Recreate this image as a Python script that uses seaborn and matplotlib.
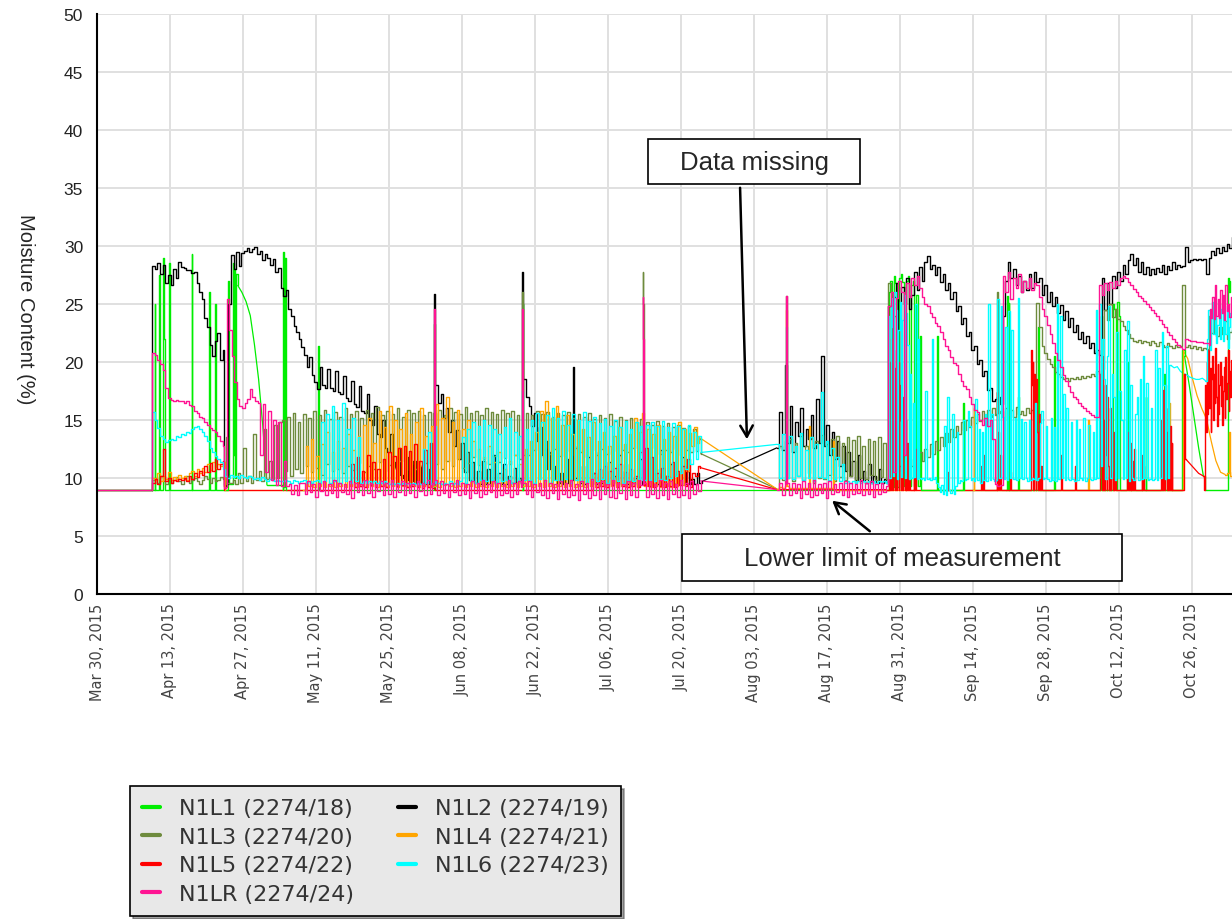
import pandas as pd
import seaborn as sns
import matplotlib.pyplot as plt
import matplotlib.ticker as mticker
from matplotlib.lines import Line2D
from matplotlib.patches import Rectangle

# day 0 = Mar 30, 2015
start_date = pd.Timestamp("2015-03-30")

sensors = ["N1L1 (2274/18)", "N1L2 (2274/19)", "N1L3 (2274/20)", "N1L4 (2274/21)",
           "N1L5 (2274/22)", "N1L6 (2274/23)", "N1LR (2274/24)"]
colors = ["#00ee00", "#000000", "#6e8b3d", "#ffa500", "#ff0000", "#00ffff", "#ff1493"]

# each run: (first day, step in days, readings)
# runs with a long step, and jumps of several days between runs, are joined by straight lines
n1l1 = [
    (0, 10.5, [9, 9]),
    (10.9, 0.15, [9.0, 25.0, 9.0]),
    (11.8, 0.15, [9.0, 27.5, 9.0]),
    (12.6, 0.15, [9.0, 29.0, 22.0, 9.0]),
    (13.7, 0.15, [9.0, 28.5, 9.0]),
    (18.0, 0.15, [9.0, 29.3, 9.0]),
    (21.3, 0.15, [9.0, 26.0, 24.5, 9.0]),
    (22.5, 0.15, [9.0, 25.0, 9.0]),
    (25.0, 0.15, [9.0, 27.0, 9.5]),
    (25.9, 0.15, [9.5, 28.5, 12.0, 28.0, 10.0, 27.6]),
    (27.0, 0.8, [26.6, 26.0, 25.2, 24.0, 21.5, 18.5, 14.5, 9.4]),
    (35.6, 0.15, [9.0, 29.5, 9.2, 29.0, 9.0]),
    (42.3, 0.15, [9.0, 21.4, 9.0]),
    (64.6, 0.1, [9.0, 23.3, 9.0]),
    (81.6, 0.1, [9.0, 25.0, 9.0]),
    (116.0, 14.4, [9.0, 9.0]),
    (151.5, 0.33, [9.0, 26.0, 27.0, 9.2, 27.4, 26.8, 9.2, 27.2, 27.6, 26.9, 9.3, 27.0, 27.4,
                   9.3, 26.6, 27.0, 9.3, 25.8, 9.3, 22.2, 9.0]),
    (161.0, 0.15, [9.0, 22.2, 9.0]),
    (166.0, 0.15, [9.0, 16.5, 9.0]),
    (174.4, 0.15, [9.0, 25.7, 9.0, 25.1, 9.0]),
    (176.5, 0.15, [9.0, 17.0, 9.0]),
    (180.3, 0.15, [9.0, 23.0, 9.0]),
    (183.5, 0.15, [9.0, 20.5, 9.0]),
    (192.4, 0.15, [9.0, 24.0, 9.0]),
    (194.5, 0.3, [9.0, 25.0, 24.6, 9.0, 25.2, 24.0, 9.0]),
    (197.5, 0.15, [9.0, 20.0, 9.0]),
    (201.0, 0.15, [9.0, 17.0, 9.0]),
    (204.5, 0.15, [9.0, 19.0, 9.0]),
    (208.0, 0.15, [9.0, 21.0]),
    (208.6, 0.9, [20.5, 18.0, 15.3, 12.6, 10.2]),
    (212.5, 0.15, [9.0, 9.0]),
    (216.8, 0.15, [9.0, 27.2, 26.0, 27.0]),
]

n1l2 = [
    (0, 10.5, [9, 9]),
    (10.6, 0.5, [28.3, 28.0, 28.5, 27.6, 28.4, 26.8, 27.5, 26.6, 28.0, 27.2, 28.6, 28.2, 28.1, 27.9,
                 27.9, 27.7, 27.8, 26.8, 26.0, 25.4, 23.8, 23.0, 21.5, 20.5, 21.8, 22.5, 20.2, 21.0]),
    (24.4, 0.4, [9.3, 9.5]),
    (25.2, 0.5, [25.0, 29.2, 28.0, 29.5, 28.3, 29.4, 29.6, 29.8, 29.5, 29.7, 29.9, 29.3, 29.6, 28.8,
                 29.3, 29.0, 28.4, 28.9, 27.8, 28.1, 26.4, 25.7, 26.2, 24.6, 24.0, 23.1, 22.6, 22.0,
                 21.3, 20.6, 19.6, 20.4, 18.9, 18.3, 17.7, 19.6, 18.0, 17.8, 19.4, 17.8, 17.5, 19.2,
                 17.4, 17.2, 18.8, 16.9, 16.6, 18.4, 16.4, 16.1, 17.9, 15.8, 15.6, 17.2, 15.0, 14.6,
                 16.2, 13.8, 13.5, 15.0, 12.6, 12.2, 13.8, 11.4, 10.9, 12.6, 10.3, 10.0, 11.8, 9.8,
                 9.7, 11.5, 9.6, 9.5, 11.0, 9.6, 9.5, 10.8, 9.6]),
    (64.6, 0.1, [9.6, 25.9, 24.0, 18.0]),
    (65.4, 0.5, [16.5, 17.2, 15.2, 16.0, 14.0, 15.0, 12.8, 14.1, 11.6, 13.0, 10.5, 12.2, 9.8, 11.4,
                 9.6, 10.6, 9.5, 11.5, 9.5, 10.8, 9.5, 12.0, 9.6, 10.4, 9.5, 11.2, 9.5, 10.2, 9.6,
                 10.9, 9.5, 10.0, 9.6]),
    (81.6, 0.1, [27.8, 24.0, 18.5]),
    (82.3, 0.5, [17.0, 16.2, 14.5, 15.6, 13.2, 14.4, 12.0, 13.2, 10.8, 12.2, 9.9, 11.0, 9.6, 10.4,
                 9.5, 11.6, 9.6, 9.8]),
    (91.2, 0.1, [9.8, 19.6, 10.0]),
    (92.0, 0.5, [12.8, 9.6, 11.0, 9.5, 11.8, 9.6, 10.4, 9.5, 12.2, 9.6, 10.8, 9.5, 11.4, 9.5, 10.2,
                 9.6, 12.0, 9.5, 10.6, 9.5, 11.2, 9.6, 10.0, 9.5, 11.6, 9.5, 10.4, 9.6, 11.0, 9.5,
                 10.8, 9.5, 12.4, 9.6, 10.2, 9.5, 11.2, 9.5, 10.0, 9.6, 11.8, 9.5, 10.6, 9.5, 9.9,
                 9.5, 10.4, 9.6, 9.7]),
    (130.4, 0.5, [12.6, 15.7, 12.4, 19.7, 13.0, 16.2, 12.2, 14.8, 13.6, 16.0, 12.8, 14.2, 13.4, 15.4,
                  12.6, 16.8, 13.0, 20.5, 12.8, 14.6, 12.0, 14.0, 11.6, 13.2, 11.0, 12.8, 10.6, 12.2,
                  10.2, 11.5, 9.8, 12.0, 9.7, 10.6, 9.6, 11.2, 9.6, 10.2, 9.6, 10.8, 9.6, 9.9, 9.6]),
    (151.7, 0.5, [24.8, 12.0, 25.6, 26.8, 15.0, 26.5, 25.0, 27.2, 24.6, 25.8, 27.8, 26.2, 28.2, 27.0,
                  28.6, 29.1, 28.0, 28.4, 27.5, 28.2, 26.9, 27.6, 26.2, 26.8, 25.4, 26.0, 24.4, 24.8,
                  23.3, 23.8, 22.2, 22.6, 21.0, 21.4, 19.8, 20.2, 18.8, 19.2, 17.6, 17.8, 16.6, 16.8,
                  17.0, 16.4, 24.0, 27.0, 28.6, 27.2, 28.0, 26.6, 27.4, 26.0, 27.0, 26.2, 27.6, 26.4,
                  27.8, 26.9, 27.2, 25.8, 26.6, 25.2, 26.0, 24.8, 25.6, 24.2, 24.9, 23.6, 24.4, 23.0,
                  23.8, 22.6, 23.2, 22.0, 22.6, 21.6, 22.2, 21.2, 21.6, 20.8, 21.0, 20.6, 27.2, 24.5,
                  26.8, 25.0, 27.4, 26.4, 27.8, 27.0, 28.4, 27.6, 28.8, 29.3, 28.4, 29.0, 27.8, 28.6,
                  27.6, 28.2, 27.5, 28.0, 27.6, 28.1, 27.8, 28.4, 27.6, 28.3, 27.9, 28.6, 28.0, 28.4,
                  28.2, 28.3, 29.9, 28.6, 28.8, 28.9, 28.8, 28.9, 28.8, 28.9, 27.6, 29.0, 29.6, 29.2,
                  29.8, 29.4, 29.9, 29.6, 30.2, 29.8, 30.8, 31.5]),
]

n1l3 = [
    (0, 10.5, [9, 9]),
    (10.6, 0.5, [9.8, 10.0, 9.6, 10.2, 9.7, 9.5, 10.0, 9.6, 9.8, 10.1, 9.7, 9.5, 9.9, 10.2, 9.6, 9.8,
                 10.0, 9.7, 9.5, 9.8, 10.2, 9.9, 9.6, 10.0, 9.7, 9.8, 10.1, 9.9]),
    (24.4, 0.3, [9.5, 13.5, 9.6]),
    (25.5, 0.5, [9.6, 9.8, 9.5, 10.4, 9.6, 12.6, 9.7, 10.2, 9.6, 13.8, 9.8, 10.6, 9.7, 14.2, 9.9,
                 11.5, 9.8, 14.6, 10.0, 14.8]),
    (35.5, 0.5, [15.0, 10.6, 15.3, 10.2, 15.6, 10.8, 14.8, 10.4, 15.5, 11.0, 15.2, 10.5, 15.8, 10.9,
                 15.4, 10.3, 15.9, 11.2, 15.1, 10.6, 15.7, 10.8, 15.3, 10.4, 16.0, 11.0, 15.5, 10.7,
                 15.8, 11.3, 15.2, 10.5, 15.9, 11.0, 15.6, 10.8, 16.1, 11.4, 15.4, 10.6, 15.8, 11.1,
                 15.5, 10.9, 16.0, 11.5, 15.3, 10.7, 15.9, 11.2, 15.6, 10.8, 15.8, 11.0, 15.4, 11.3,
                 15.7, 10.9]),
    (64.5, 0.5, [15.6, 11.2, 15.9, 10.8, 15.4, 11.5, 16.0, 11.0, 15.7, 11.6, 15.5, 10.9, 16.1, 11.3,
                 15.6, 11.8, 15.8, 11.1, 15.4, 11.6, 16.0, 11.2, 15.7, 11.9, 15.5, 11.4, 15.9, 11.7,
                 15.6, 11.2, 15.8, 12.0, 15.4, 11.6, 15.7]),
    (81.6, 0.1, [26.0, 24.5, 12.0]),
    (82.2, 0.5, [15.6, 12.0, 15.4, 12.4, 15.8, 11.8, 15.5, 12.6, 15.7, 12.1, 15.3, 12.5, 15.6, 11.9,
                 15.4, 12.3, 15.7, 12.0, 15.2, 12.6, 15.5, 12.2, 15.3, 11.8, 15.6, 12.4, 15.1, 12.0,
                 15.4, 12.5, 15.2, 12.1, 15.5, 12.3, 14.9, 11.9, 15.3, 12.4, 15.0, 12.2, 15.2, 12.6,
                 14.8, 12.0, 15.1]),
    (104.6, 0.1, [12.3, 27.8, 25.0, 12.5]),
    (105.3, 0.5, [14.8, 12.3, 14.6, 12.6, 14.9, 12.1, 14.5, 12.4, 14.7, 12.2, 14.4, 12.5, 14.6, 12.0,
                  14.3, 12.4, 14.5, 12.2, 14.2, 12.3, 13.4, 12.1]),
    (130.4, 0.5, [9.05, 12.8, 9.8, 13.2]),
    (132.1, 0.1, [9.8, 25.7, 24.0, 10.0]),
    (132.8, 0.5, [13.4, 9.7, 13.0, 10.2, 13.6, 9.8, 12.8, 10.4, 13.5, 9.6, 13.2, 10.0, 13.7, 9.9,
                  12.9, 10.3, 13.4, 9.7, 13.6, 10.1, 13.0, 9.8, 13.5, 10.2, 13.3, 9.6, 13.6, 10.0,
                  12.8, 9.9, 13.4, 10.3, 13.2, 9.8, 13.5, 10.1, 13.0, 9.9]),
    (151.7, 0.5, [26.8, 10.6, 24.0, 10.8, 11.0, 10.6, 11.4, 10.9, 11.6, 11.0, 11.9, 11.3, 12.2, 11.5,
                  12.5, 11.8, 12.9, 12.1, 13.2, 12.4, 13.5, 12.8, 13.9, 13.1, 14.2, 13.5, 14.5, 13.8,
                  14.8, 14.1, 15.0, 14.4, 15.3, 14.7, 15.5, 14.9, 15.8, 15.1, 15.9, 15.3, 16.0, 15.4]),
    (172.5, 0.15, [15.5, 26.0, 15.6]),
    (173.2, 0.5, [15.8, 15.2, 16.0, 15.4, 15.9, 15.3, 16.1, 15.5, 15.8, 15.4, 16.0, 15.6, 15.9, 15.5]),
    (180.2, 0.5, [25.1, 23.0, 21.4, 20.8, 20.3, 19.8, 19.6, 19.1, 19.0, 18.7, 18.5, 18.6, 18.4,
                  18.6, 18.5, 18.7, 18.5, 18.8, 18.6, 18.8, 18.7, 19.0, 18.8, 19.2, 19.0, 19.4,
                  24.5, 23.6, 25.0, 23.9, 24.6, 23.7, 23.5, 23.1, 22.8, 22.4, 22.1, 21.8, 21.7, 21.9,
                  21.6, 21.8, 21.7,
                  21.5, 21.8, 21.6, 21.4, 21.7, 21.5, 21.3, 21.6, 21.4, 21.2, 21.5, 21.3, 21.4,
                  26.6,
                  21.3, 21.5, 21.2, 21.4, 21.1, 21.3, 21.0, 21.2, 21.1,
                  24.0, 22.5, 23.8, 22.2, 23.0, 22.4, 23.5, 22.0, 22.6, 22.8]),
]

n1l4 = [
    (0, 10.5, [9, 9]),
    (10.6, 0.5, [10.0, 9.8, 10.4, 9.7, 10.2, 9.9, 10.5, 9.8, 10.1, 9.9, 10.3, 10.0, 10.2, 9.8, 10.4,
                 10.6, 10.2, 10.8, 10.4, 10.9, 10.5, 11.2, 10.7, 11.4, 10.9, 11.2, 11.0, 11.4]),
    (24.5, 15.0, [9.0, 9.0]),
    (40.0, 0.5, [12.8, 9.3, 13.4, 9.2, 11.9, 9.3, 12.9, 9.2, 14.0, 9.3, 12.2, 9.2, 13.2, 9.3, 12.6,
                 9.2, 13.8, 9.3, 12.4, 9.2, 13.6, 9.3, 14.6, 9.2, 15.2, 9.3, 13.0, 9.2, 15.8, 9.3,
                 14.4, 9.2, 16.2, 9.3, 15.0, 9.2, 14.2, 9.3, 15.6, 9.2, 13.8, 9.3, 14.8, 9.2, 16.0,
                 9.3, 13.6, 9.2]),
    (64.0, 0.5, [14.5, 9.3, 16.4, 9.2, 15.2, 9.4, 17.0, 9.3, 14.8, 9.2, 15.9, 9.3, 14.2, 9.2, 15.0,
                 9.3, 13.2, 9.2, 12.5, 9.3, 11.8, 9.2, 12.8, 9.3, 11.4, 9.2, 12.2, 9.3, 10.8, 9.2,
                 11.5, 9.3, 12.0, 9.2, 11.2, 9.3]),
    (82.0, 0.5, [12.5, 9.3, 13.2, 9.2, 14.0, 9.3, 15.8, 9.2, 16.6, 9.3, 15.2, 9.2, 16.2, 9.3, 14.6,
                 9.2, 15.4, 9.3, 13.8, 9.2, 15.0, 9.3, 14.2, 9.2, 13.5, 9.3, 14.8, 9.2, 13.2, 9.3,
                 14.0, 9.2, 12.8, 9.3, 13.6, 9.2, 14.4, 9.3, 12.9, 9.2, 13.8, 9.3, 15.2, 9.2, 14.0]),
    (104.5, 0.5, [15.6, 9.3, 14.2, 9.2, 13.8, 9.3, 14.6, 9.2, 13.4, 9.3, 14.0, 9.2, 13.6, 9.3, 14.8,
                  9.4, 14.2, 10.6, 13.9, 12.8, 14.4, 13.0, 13.5]),
    (130.4, 0.5, [9.05, 9.2, 9.1, 9.3]),
    (132.1, 0.1, [9.3, 24.5, 22.0, 9.3]),
    (132.8, 0.15, [9.1, 9.1]),
    (136.5, 0.15, [9.1, 14.5, 9.1]),
    (141.0, 0.15, [9.1, 13.2, 9.0]),
    (152.0, 0.15, [9.0, 9.0]),
    (168.0, 0.15, [9.0, 16.0, 9.0]),
    (190.0, 0.15, [9.0, 15.0, 9.0]),
    (205.5, 0.15, [9.0, 16.5, 9.0]),
    (208.3, 0.9, [21.0, 20.3, 18.6, 17.1, 16.0, 15.1, 13.2, 11.5, 10.5, 10.3]),
    (216.8, 0.3, [10.4, 14.0, 10.2, 10.5]),
]

n1l5 = [
    (0, 10.5, [9, 9]),
    (10.6, 0.5, [9.6, 9.9, 9.5, 10.2, 12.5, 9.7, 10.0, 9.6, 9.8, 9.7, 9.9, 9.8, 10.0, 9.7, 10.2, 9.9,
                 10.4, 10.1, 10.6, 10.3, 11.0, 10.5, 11.3, 10.6, 11.6, 10.8, 11.2, 11.5]),
    (24.4, 24.0, [9.0, 9.0]),
    (48.8, 0.5, [11.2, 9.2, 11.8, 9.3, 10.6, 9.2, 12.0, 9.4, 11.4, 9.2, 10.8, 9.3, 11.6, 9.2, 12.2,
                 9.5, 11.9, 9.3, 12.6, 9.4, 12.8, 9.2, 12.3, 9.3, 12.9, 9.2, 11.5, 9.1]),
    (62.8, 0.5, [12.4, 9.2, 13.0, 9.1]),
    (64.8, 30.0, [9.0, 9.0]),
    (95.2, 0.5, [10.4, 9.2, 10.8, 9.3, 11.0, 9.2, 10.6, 9.4, 10.9, 9.2, 11.2, 9.3, 10.5, 9.2, 10.8,
                 9.3, 10.2, 9.2, 12.2, 9.4, 12.6, 9.3, 11.8, 9.2, 10.4, 9.3, 10.9, 9.2, 10.2, 9.3,
                 11.4, 9.2, 10.6, 9.4, 11.0, 9.3, 11.6, 9.2, 10.4, 10.2, 11.0, 10.9]),
    (130.4, 21.0, [9.0, 9.0]),
    (151.8, 0.15, [9.0, 20.0, 9.0, 22.0, 18.0, 9.0, 21.0, 17.0, 9.0, 19.5, 9.0, 17.5, 20.0, 9.0,
                   18.0, 15.0, 9.0, 17.0, 9.0, 16.0, 12.0, 9.0, 15.0, 9.0, 13.0, 9.0, 12.5, 9.0]),
    (156.5, 0.15, [9.0, 11.5, 9.0, 12.5, 9.0]),
    (163.0, 0.15, [9.0, 10.5, 9.0]),
    (169.5, 0.15, [9.0, 11.0, 9.0, 12.0, 9.0]),
    (172.4, 0.15, [9.0, 17.4, 9.0, 14.0, 9.0, 12.0, 9.0]),
    (175.0, 0.15, [9.0, 10.5, 9.0]),
    (179.0, 0.15, [9.0, 21.0, 18.0, 20.0, 9.0, 19.0, 16.0, 9.0, 18.5, 14.0, 9.0, 15.5, 12.0, 9.0,
                   11.0, 9.0]),
    (184.8, 0.15, [9.0, 12.0, 9.0]),
    (187.5, 0.15, [9.0, 11.0, 9.0]),
    (192.3, 0.15, [9.0, 19.0, 14.0, 9.0, 20.5, 15.0, 9.0, 18.0, 12.0, 9.0, 17.0, 11.0, 9.0, 16.0,
                   9.0, 15.0, 10.5, 9.0, 14.0, 9.0, 12.5, 9.0]),
    (197.5, 0.15, [9.0, 14.0, 9.0, 12.0, 9.0, 13.0, 9.0, 11.5, 9.0, 12.5, 9.0]),
    (200.2, 0.15, [9.0, 12.0, 9.0, 11.0, 9.0]),
    (204.0, 0.15, [9.0, 15.0, 9.0, 17.6, 12.0, 9.0, 18.0, 14.0, 9.0, 16.0, 11.0, 9.0, 14.5, 9.0,
                   13.0, 9.0]),
    (208.3, 0.15, [9.0, 19.0, 11.6]),
    (208.9, 0.8, [11.6, 11.2, 10.8, 10.4, 10.2]),
    (212.4, 0.15, [9.0, 18.0, 14.0, 20.0, 15.5, 21.0, 16.0, 19.5, 14.0, 18.5, 20.5, 15.0, 19.0,
                   16.5, 21.2, 17.0, 14.5, 19.8, 15.5, 18.0, 20.0, 16.2, 18.8, 14.6, 17.5, 19.6,
                   15.2, 20.4, 16.8, 18.2, 21.0, 15.8, 19.2, 17.0, 20.2]),
]

n1l6 = [
    (0, 10.5, [9, 9]),
    (10.6, 0.5, [15.7, 15.0, 14.3, 13.6, 13.4, 13.1, 13.3, 13.4, 13.3, 13.6, 13.5, 13.8, 13.7, 14.0,
                 13.9, 14.2, 14.4, 14.5, 14.2, 14.0, 13.6, 13.2, 12.6, 12.2, 11.9, 11.6, 11.4, 10.8]),
    (24.5, 0.5, [10.2, 10.0, 10.3, 10.1, 10.2, 10.0, 10.3, 10.1, 10.0, 10.2, 10.1, 9.9, 10.0, 9.8,
                 10.1, 9.9, 9.7, 9.9, 9.8, 9.7, 9.8, 9.7]),
    (35.5, 0.5, [9.7, 9.8, 9.7, 9.6, 9.8, 9.7, 9.6, 9.7, 9.8, 9.6, 9.7, 9.6, 9.7, 9.8, 9.6, 14.8,
                 9.7, 15.5, 9.6, 16.2, 9.7, 15.0, 9.6, 16.5, 9.7, 14.2, 9.6, 15.2, 9.7, 13.5, 9.6,
                 9.7, 9.6, 9.7, 9.6, 9.7, 9.6, 9.7, 9.6, 9.7]),
    (55.5, 0.5, [9.6, 9.5, 9.6, 9.5, 9.6, 9.5, 9.6, 9.5, 9.6, 9.5, 9.6, 9.5, 9.6, 9.5, 12.5, 9.6,
                 14.0, 9.5, 9.6]),
    (64.8, 0.1, [9.6, 14.5, 9.6]),
    (65.5, 0.5, [9.6, 9.5, 9.6, 9.5, 9.7, 9.5, 9.6, 9.5, 9.7, 13.5, 9.6, 14.2, 9.7, 14.8, 9.6, 14.5,
                 9.8, 15.0, 9.7, 14.6, 9.8, 14.2, 9.6, 13.8, 9.7, 14.4, 9.8, 15.2, 9.6, 14.0, 9.7,
                 13.6, 9.8]),
    (81.6, 0.1, [17.5, 12.0, 9.8]),
    (82.2, 0.5, [14.2, 9.8, 15.0, 9.6, 15.6, 9.9, 14.8, 9.7, 15.4, 9.6, 16.0, 9.8, 15.2, 9.7, 15.8,
                 9.9, 14.6, 9.6, 15.5, 9.8, 15.0, 9.7, 15.7, 9.6, 14.9, 9.8, 15.3, 9.7, 14.7, 9.9,
                 15.1, 9.6, 14.5, 9.8, 15.0, 9.7, 14.4, 9.6, 14.9, 9.8, 14.2, 9.7, 14.8, 9.9, 14.5]),
    (104.6, 0.1, [9.8, 15.0, 9.8, 9.8]),
    (105.3, 0.5, [14.6, 9.8, 14.8, 9.7, 14.5, 9.9, 14.9, 9.8, 14.4, 10.0, 14.7, 10.2, 14.5, 10.4,
                  14.2, 10.8, 14.6, 11.2, 14.0, 11.6, 13.6, 12.2]),
    (130.4, 0.5, [12.9, 10.0, 13.8, 9.8]),
    (132.1, 0.1, [9.8, 23.0, 18.0, 10.0]),
    (132.8, 0.5, [13.6, 9.9, 12.8, 10.2, 13.9, 9.8, 12.4, 10.0, 13.5, 9.7, 12.9, 10.1, 17.4, 10.0,
                  13.2, 9.8, 12.6, 9.9, 11.8, 9.7, 11.2, 9.6, 9.7, 9.6, 9.7, 9.6, 9.7, 9.6, 9.7,
                  9.6, 9.7, 9.6, 9.7, 9.6, 9.7, 9.6, 9.7, 9.6]),
    (151.7, 0.25, [24.0, 10.0, 25.5, 23.0, 10.2, 26.0, 24.5, 9.9, 22.8, 25.2, 10.1, 23.6, 25.8,
                   10.0, 24.2, 21.5, 9.9, 19.0, 10.0, 16.5, 10.1, 25.0, 9.9, 22.0, 10.0]),
    (158.0, 0.3, [9.9, 10.0, 9.8, 17.5, 9.9, 10.0, 9.8, 22.0, 9.9, 10.1, 9.6, 9.2, 8.8, 9.4, 8.6,
                  14.5, 8.5, 17.0, 9.0, 8.7, 15.5, 8.6, 9.3, 14.0, 9.6, 9.8, 9.7, 15.0, 9.8, 9.9,
                  15.8, 14.5, 9.8, 10.0, 9.7, 16.8, 9.8, 14.2, 9.6, 14.0, 9.8, 15.5, 9.7, 25.0, 9.8,
                  15.5, 9.9, 9.7]),
    (172.4, 0.3, [9.8, 25.4, 10.0, 24.8, 15.3, 9.9, 23.0, 9.8, 24.4, 10.0, 22.8, 9.9, 15.2, 9.8,
                  25.5, 10.0, 15.1, 9.9, 14.8, 10.0, 9.7, 15.0, 9.8, 10.0, 9.9, 16.5, 9.8, 10.0,
                  14.7, 15.8, 9.9, 10.0, 14.5, 9.9, 9.7, 15.2, 9.8, 14.4, 9.7, 25.0, 9.9, 24.0, 10.0,
                  17.2, 9.8, 16.0, 9.9]),
    (186.5, 0.3, [9.8, 14.8, 9.9, 9.7, 15.0, 9.8, 14.2, 10.0, 9.8, 15.2, 9.7, 10.0, 14.6, 9.9, 9.8,
                  14.0, 9.9, 24.5, 10.0, 25.0, 11.0, 22.0, 18.5, 9.9, 20.5, 24.8, 10.0, 19.0, 17.0,
                  9.8, 22.6, 10.0, 17.5, 15.0, 9.9, 21.0, 10.0, 23.5, 9.7, 18.0, 10.0, 9.8, 15.5,
                  17.0, 9.8, 18.5, 9.9, 20.5, 10.0, 18.2, 9.8]),
    (201.8, 0.3, [9.9, 16.0, 9.8, 9.9, 21.0, 9.8, 19.5, 10.0, 22.6, 18.0, 9.9, 21.4, 10.0, 19.7]),
    (206.0, 0.6, [19.7, 19.5, 19.6, 19.2, 19.0, 18.9, 18.7, 18.6, 18.5, 18.5, 18.6, 18.4]),
    (212.9, 0.25, [22.0, 24.5, 21.0, 23.8, 25.2, 22.4, 24.0, 21.6, 23.2, 25.0, 22.0, 24.6, 21.8,
                   23.6, 22.4, 24.8, 21.2, 23.0, 24.2, 22.6]),
]

n1lr = [
    (0, 10.5, [9, 9]),
    (10.6, 0.5, [20.8, 20.6, 20.2, 19.8, 19.3, 17.8, 16.9, 16.7, 16.6, 16.7, 16.6, 16.6, 16.5, 16.6,
                 16.3, 16.2, 15.8, 15.6, 15.3, 15.2, 14.8, 14.6, 14.3, 14.1, 14.0, 13.6, 13.2, 12.8]),
    (24.4, 0.3, [9.1, 9.2, 25.4]),
    (25.3, 0.5, [22.8, 20.5, 18.3, 16.8, 16.2, 16.0, 16.5, 16.8, 17.7, 17.0, 16.6, 16.5, 12.0, 16.4,
                 10.5, 15.8, 9.8, 15.0, 9.4, 14.8, 9.3, 11.5, 9.3, 9.5, 8.6, 9.4, 8.5, 9.6]),
    (39.3, 0.5, [9.6, 8.6, 9.7, 8.8, 9.5, 8.4, 9.6, 8.9, 9.7, 8.5, 9.5, 8.7, 9.8, 8.4, 9.6, 8.8, 9.5,
                 8.6, 9.7, 8.3, 9.6, 8.8, 9.5, 8.5, 9.8, 8.7, 9.6, 8.4, 9.5, 8.9, 9.7, 8.5, 9.6, 8.6,
                 9.8, 8.4, 9.5, 8.8, 9.7, 8.5, 9.6, 8.7, 9.5, 8.4, 9.7, 8.9, 9.6, 8.5, 9.8, 8.6, 9.6]),
    (64.6, 0.1, [9.4, 24.6, 20.0, 9.8]),
    (65.3, 0.5, [8.5, 9.7, 8.7, 9.5, 8.4, 9.6, 8.8, 9.8, 8.5, 9.6, 8.6, 9.5, 8.3, 9.7, 8.7, 9.6, 8.4,
                 9.8, 8.6, 9.5, 8.8, 9.7, 8.4, 9.6, 8.5, 9.5, 8.7, 9.8, 8.4, 9.6, 8.6, 9.7, 9.2]),
    (81.6, 0.1, [24.6, 21.0, 9.6]),
    (82.2, 0.5, [8.6, 9.7, 8.4, 9.5, 8.8, 9.6, 8.5, 9.8, 8.3, 9.6, 8.7, 9.5, 8.2, 9.7, 8.6, 9.6, 8.4,
                 9.8, 8.5, 9.5, 8.1, 9.7, 8.6, 9.6, 8.3, 9.9, 8.5, 9.6, 8.2, 9.7, 8.6, 9.5, 8.4, 9.8,
                 8.3, 9.6, 8.7, 9.5, 8.2, 9.7, 8.5, 9.6, 8.4, 9.8, 9.4]),
    (104.6, 0.1, [9.4, 25.6, 22.0, 9.6]),
    (105.3, 0.5, [8.4, 9.7, 8.6, 9.5, 8.3, 9.8, 8.5, 9.6, 8.2, 9.7, 8.6, 9.5, 8.4, 9.8, 8.5, 9.6,
                  8.3, 9.7, 8.6, 9.5, 8.9, 9.75]),
    (130.4, 0.5, [9.0, 9.6, 8.5, 9.7]),
    (132.1, 0.1, [9.5, 25.7, 22.0, 9.6]),
    (132.8, 0.5, [8.5, 9.6, 8.7, 9.5, 8.3, 9.7, 8.6, 9.6, 8.4, 9.8, 8.5, 9.5, 8.7, 9.6, 8.3, 9.7,
                  8.6, 9.5, 8.8, 9.6, 8.5, 9.7, 8.4, 9.6, 8.6, 9.5, 8.7, 9.8, 8.5, 9.6, 8.6, 9.7,
                  8.4, 9.5, 8.6, 9.6, 8.8, 9.3]),
    (151.7, 0.5, [24.8, 26.0, 10.5, 25.5, 27.0, 26.0, 12.0, 26.8, 25.6, 27.2, 26.6, 27.4, 26.4, 25.6,
                  25.0, 24.8, 24.2, 23.9, 23.4, 23.1, 22.6, 22.0, 21.4, 21.0, 20.4, 19.9, 19.7, 19.0,
                  18.4, 17.9, 17.7, 17.0, 16.4, 15.9, 15.7, 15.0, 14.6, 15.2, 14.5, 15.0, 13.4, 9.5,
                  9.3, 9.4]),
    (173.7, 0.5, [27.4, 26.0, 27.8, 25.4, 27.2, 26.4, 27.6, 26.0, 27.0, 26.4, 27.2, 26.2, 26.8, 26.6,
                  25.6, 24.6, 24.0, 23.2, 22.4, 21.6, 20.8, 20.2, 19.6, 18.9, 18.4, 17.9, 17.4, 17.0,
                  16.8, 16.5, 16.2, 16.0, 15.8, 15.6, 15.4, 15.3, 15.3]),
    (192.2, 0.5, [26.6, 25.8, 26.8, 26.2, 26.9, 26.4, 27.0, 26.6, 27.2, 27.4, 27.2, 26.9, 26.6, 26.3,
                  26.0, 25.7, 25.5, 25.3, 25.0, 24.7, 24.5, 24.2, 24.0, 23.6, 23.3, 23.0, 22.6, 22.3,
                  22.0, 21.7, 21.5, 21.3, 21.1, 22.0, 21.9, 21.8, 21.8, 21.7, 21.7, 21.7, 21.6, 21.6]),
    (213.2, 0.25, [21.5, 24.6, 23.8, 25.6, 23.7, 26.6, 24.0, 25.4, 23.8, 26.2, 24.2, 25.8, 23.6, 26.6,
                   24.4, 25.0, 23.9, 25.6, 24.8]),
]

all_runs = [n1l1, n1l2, n1l3, n1l4, n1l5, n1l6, n1lr]

# 展开: 逐段记录读数, 相邻两点之间用阶梯(steps)或直线(line)连接
step_rows, line_rows = [], []
for name, runs in zip(sensors, all_runs):
    pts, kinds = [], []
    for first, step, readings in runs:
        if pts:
            # 两段之间: 间隔超过5天视为缺测, 画直线
            kinds.append("line" if first - pts[-1][0] > 5 else "steps")
        for i, v in enumerate(readings):
            if i > 0:
                kinds.append("line" if step >= 0.6 else "steps")
            pts.append((first + i * step, v))
    seg = 0
    current = [pts[0]]
    for k in range(len(kinds)):
        current.append(pts[k + 1])
        if k + 1 == len(kinds) or kinds[k + 1] != kinds[k]:
            rows = step_rows if kinds[k] == "steps" else line_rows
            for d, v in current:
                rows.append({"day": d, "moisture": v, "sensor": name, "seg": f"{name}-{seg}"})
            seg += 1
            current = [pts[k + 1]]

steps_df = pd.DataFrame(step_rows)
lines_df = pd.DataFrame(line_rows)
for frame in (steps_df, lines_df):
    frame["date"] = start_date + pd.to_timedelta(frame["day"], unit="D")

sns.set_style("white")
plt.rcParams["font.family"] = ["Liberation Sans", "DejaVu Sans"]

fig = plt.figure(figsize=(12.32, 9.2), dpi=100)
ax = fig.add_axes([97 / 1232, 325 / 920, 1 - 97 / 1232, 580 / 920])

palette = dict(zip(sensors, colors))
sns.lineplot(data=lines_df, x="date", y="moisture", hue="sensor", hue_order=sensors,
             units="seg", palette=palette, estimator=None, sort=False,
             linewidth=0.9, legend=False, ax=ax)
sns.lineplot(data=steps_df, x="date", y="moisture", hue="sensor", hue_order=sensors,
             units="seg", palette=palette, estimator=None, sort=False,
             linewidth=1.0, drawstyle="steps-post", legend=False, ax=ax)

ax.set_xlim(start_date, start_date + pd.Timedelta(days=217.7))
ax.set_ylim(0, 50)
ax.set_xlabel("")
ax.set_ylabel("")

major = pd.date_range(start_date, periods=16, freq="14D")
minor = pd.date_range(start_date, periods=32, freq="7D")
ax.set_xticks(major)
ax.set_xticks(minor, minor=True)
ax.set_xticklabels([d.strftime("%b %d, %Y") for d in major], rotation=90,
                   fontsize=10.5, color="#444444", family="DejaVu Sans")
ax.yaxis.set_major_locator(mticker.MultipleLocator(5))
ax.yaxis.set_minor_locator(mticker.MultipleLocator(1))
for lab in ax.get_yticklabels():
    lab.set_fontsize(12.5)
    lab.set_color("#222222")

ax.tick_params(which="major", direction="in", length=6, width=1.2, color="black")
ax.tick_params(which="minor", direction="in", length=3, width=1.0, color="black")
ax.tick_params(axis="y", pad=10)
ax.tick_params(axis="x", pad=6)

ax.grid(True, which="major", color="#e0e0e0", linewidth=1.4)
ax.set_axisbelow(True)
for side in ["top", "right"]:
    ax.spines[side].set_visible(False)
for side in ["left", "bottom"]:
    ax.spines[side].set_color("black")
    ax.spines[side].set_linewidth(1.5)

fig.text(25 / 1232, 1 - 309 / 920, "Moisture Content (%)", rotation=270,
         ha="center", va="center", fontsize=14.5)

# 图例 (两列, 按行排列)
order = [0, 2, 4, 6, 1, 3, 5]
handles = [Line2D([0], [0], color=colors[i], lw=3) for i in order]
labels = [sensors[i] for i in order]
leg = fig.legend(handles, labels, ncol=2, loc="lower left",
                 bbox_to_anchor=(130 / 1232, 3 / 920), borderaxespad=0,
                 prop={"family": "DejaVu Sans", "size": 16},
                 handlelength=0.8, handletextpad=0.85, columnspacing=2.0,
                 labelspacing=0.38, borderpad=0.55, fancybox=False, shadow=True,
                 frameon=True, framealpha=1)
leg.get_frame().set_facecolor("#e8e8e8")
leg.get_frame().set_edgecolor("black")
leg.get_frame().set_linewidth(1.2)
for t in leg.get_texts():
    t.set_color("#333333")

# 注释框和箭头
def fx(px):
    return px / 1232

def fy(py):
    return 1 - py / 920

fig.add_artist(Rectangle((fx(648), fy(185)), 212 / 1232, 45 / 920, transform=fig.transFigure,
                         facecolor="white", edgecolor="black", linewidth=1.2))
fig.text(fx(754), fy(163), "Data missing", ha="center", va="center", fontsize=18.5)
fig.add_artist(Rectangle((fx(682), fy(582)), 440 / 1232, 47 / 920, transform=fig.transFigure,
                         facecolor="white", edgecolor="black", linewidth=1.2))
fig.text(fx(902), fy(559), "Lower limit of measurement", ha="center", va="center", fontsize=18.5)

arrow = dict(arrowstyle="->,head_length=0.8,head_width=0.45", color="black", lw=1.8)
ax.annotate("", xy=(fx(747), fy(443)), xycoords="figure fraction",
            xytext=(fx(740), fy(186)), textcoords="figure fraction", arrowprops=arrow)
ax.annotate("", xy=(fx(830), fy(500)), xycoords="figure fraction",
            xytext=(fx(872), fy(534)), textcoords="figure fraction", arrowprops=arrow)

fig.savefig("out.png", dpi=100)
